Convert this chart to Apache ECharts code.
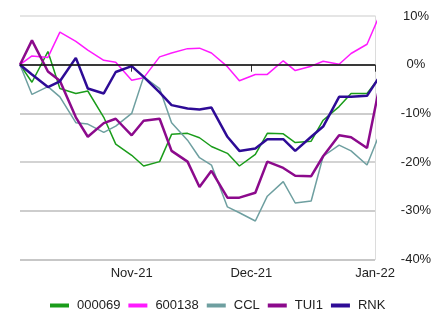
<!DOCTYPE html>
<html>
<head>
<meta charset="utf-8">
<script src="https://cdn.jsdelivr.net/npm/echarts@6/dist/echarts.min.js"></script>
<style>
  html, body { margin: 0; padding: 0; background: #fff; }
  #chart { width: 447px; height: 313px; }
</style>
</head>
<body>
<div id="chart"></div>
<script>
// observation dates (roughly twice a week)
const dates = [
  '2021-10-04', '2021-10-07', '2021-10-11', '2021-10-14', '2021-10-18', '2021-10-21',
  '2021-10-25', '2021-10-28', '2021-11-01', '2021-11-04', '2021-11-08', '2021-11-11',
  '2021-11-15', '2021-11-18', '2021-11-21', '2021-11-25', '2021-11-28', '2021-12-02',
  '2021-12-05', '2021-12-09', '2021-12-12', '2021-12-16', '2021-12-19', '2021-12-23',
  '2021-12-26', '2021-12-30', '2022-01-02'
]

// cumulative change in %
const s000069 = [0, -3.6, 2.7, -4.9, -5.9, -5.4, -10.8, -16.3, -18.6, -20.8, -19.9, -14.3, -14.1, -15.0,
  -16.8, -18.2, -20.8, -18.4, -14.1, -14.2, -16.0, -15.7, -11.4, -8.6, -5.9, -5.9, -2.7]
const s600138 = [0, 1.8, 1.5, 6.7, 4.8, 3.0, 0.9, 0.5, -3.2, -2.7, 1.6, 2.4, 3.3, 3.4,
  2.4, -0.4, -3.3, -2.0, -2.0, 0.8, -1.2, -0.3, 0.7, 0.1, 2.3, 4.2, 9.9]
const sCCL = [0, -6.1, -4.5, -6.6, -11.9, -12.2, -13.9, -12.6, -10.0, -2.5, -4.9, -11.9, -15.5, -19.1,
  -20.6, -29.2, -30.4, -32.1, -27.0, -24.0, -28.4, -28.0, -18.8, -16.5, -17.7, -20.6, -14.5]
const sTUI1 = [0, 5.0, -1.4, -3.3, -10.8, -14.8, -12.0, -11.1, -14.5, -11.5, -11.1, -17.7, -19.9, -25.1,
  -21.8, -27.3, -27.3, -26.3, -19.9, -21.2, -22.8, -22.9, -18.8, -14.5, -14.9, -17.1, -5.0]
const sRNK = [0, -2.0, -4.6, -3.4, 1.4, -4.9, -5.9, -1.5, -0.3, -2.5, -5.7, -8.3, -9.0, -9.2,
  -8.8, -14.8, -17.7, -17.2, -15.3, -15.3, -17.7, -14.8, -12.7, -6.6, -6.6, -6.4, -2.6]

const seriesNames = ['000069', '600138', 'CCL', 'TUI1', 'RNK']
const seriesColors = ['#1a9c1a', '#ff1aff', '#6e9fa0', '#8c0a8c', '#2e0b96']
const seriesWidths = [1.5, 1.5, 1.5, 2.5, 2.5]
const seriesValues = [s000069, s600138, sCCL, sTUI1, sRNK]

// x axis ticks
const xTickDates = ['2021-11-01', '2021-12-01', '2022-01-01']
const xTickLabels = ['Nov-21', 'Dec-21', 'Jan-22']

const toTime = s => new Date(s + 'T00:00:00').getTime()
const xTicks = xTickDates.map(toTime)

const chart = echarts.init(document.getElementById('chart'))

const option = {
  animation: false,
  textStyle: { fontFamily: 'Liberation Sans, Arial, sans-serif' },
  grid: { left: 20, right: 72, top: 16, bottom: 53.5 },
  legend: {
    data: seriesNames,
    left: 50,
    top: 299,
    padding: 0,
    icon: 'rect',
    itemWidth: 19,
    itemHeight: 4,
    itemGap: 8,
    textStyle: { fontSize: 13, color: '#222', padding: [0, 0, 0, 3] }
  },
  xAxis: {
    type: 'value',
    min: toTime('2021-10-04'),
    max: toTime('2022-01-01'),
    axisLine: { show: true, lineStyle: { color: '#b4b4b4', width: 2 } },
    axisTick: { show: true, customValues: xTicks, length: 7, lineStyle: { color: '#333', width: 1 } },
    axisLabel: {
      customValues: xTicks,
      fontSize: 13,
      color: '#222',
      margin: 7,
      formatter: v => xTickLabels[xTicks.indexOf(v)] || ''
    },
    splitLine: { show: false }
  },
  yAxis: {
    type: 'value',
    position: 'right',
    min: -40,
    max: 10,
    interval: 10,
    axisLine: { show: true, lineStyle: { color: '#dcdcdc', width: 1 } },
    axisTick: { show: false },
    axisLabel: {
      fontSize: 13,
      color: '#222',
      align: 'center',
      margin: 41,
      formatter: v => v + '%'
    },
    splitLine: { show: true, lineStyle: { color: ['#b4b4b4', '#bdbdbd', '#c4c4c4', '#bdbdbd', '#bdbdbd', '#dcdcdc'], width: 1.5 } }
  },
  series: seriesNames.map((name, i) => ({
    name: name,
    type: 'line',
    data: dates.map((d, j) => [toTime(d), seriesValues[i][j]]),
    showSymbol: false,
    clip: false,
    lineStyle: { color: seriesColors[i], width: seriesWidths[i] },
    itemStyle: { color: seriesColors[i] },
    markLine: i === 0 ? {
      silent: true,
      symbol: 'none',
      label: { show: false },
      lineStyle: { color: '#111', width: 1.5, type: 'solid' },
      data: [{ yAxis: 0 }]
    } : undefined
  }))
}

chart.setOption(option)
</script>
</body>
</html>
